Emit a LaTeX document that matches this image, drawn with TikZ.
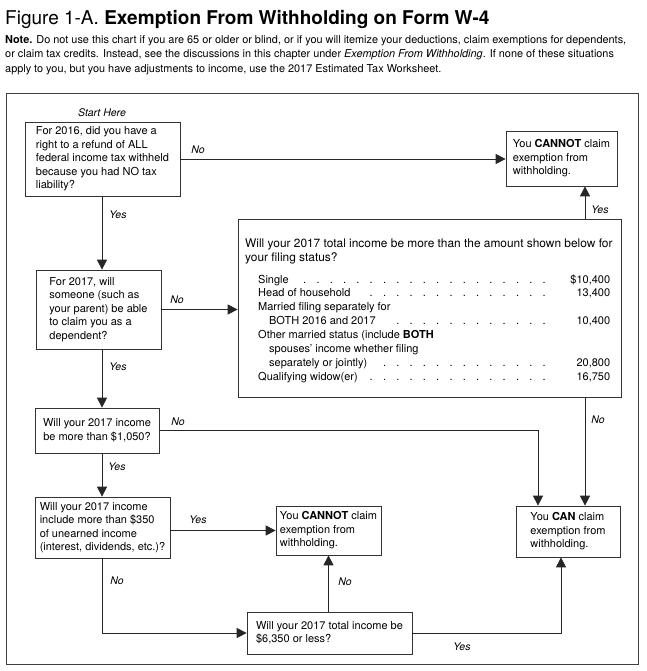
\documentclass[tikz,border=0pt]{standalone}
\usepackage{fontspec}
\setmainfont{TeX Gyre Heros}
\usetikzlibrary{arrows.meta}
\newcommand\tabrow[2]{\hbox to 352pt{#1\ \leaders\hbox to 13.3pt{\hss.\hss}\hfill\hbox to 50pt{\hss #2}}}
\begin{document}
\begin{tikzpicture}[x=1pt,y=-1pt,
  box/.style={draw=black!80, line width=0.7pt, rectangle, inner sep=0pt, align=left, font=\fontsize{11}{13.5}\selectfont},
  conn/.style={draw=black!85, line width=0.8pt},
  arr/.style={conn, -{Triangle[length=10pt,width=10pt]}},
  lbl/.style={font=\fontsize{10.5}{12}\selectfont\itshape, inner sep=0pt},
  row/.style={anchor=base west, inner sep=0pt, font=\fontsize{11}{13.5}\selectfont},
]
\useasboundingbox (0,0) rectangle (646,671);
\node[anchor=base west, inner sep=0pt, font=\fontsize{19}{22}\selectfont] (title) at (5,25)
  {Figure 1-A. \textbf{Exemption From Withholding on Form W-4}};
\node[anchor=north west, inner sep=0pt, align=left, font=\fontsize{10.9}{14.5}\selectfont] (note) at (5,35)
  {\textbf{Note.} Do not use this chart if you are 65 or older or blind, or if you will itemize your deductions, claim exemptions for dependents,\\
   or claim tax credits. Instead, see the discussions in this chapter under \textit{Exemption From Withholding}. If none of these situations\\
   apply to you, but you have adjustments to income, use the 2017 Estimated Tax Worksheet.};
\node[draw=black!75, line width=0.7pt, minimum width=632pt, minimum height=571pt, inner sep=0pt] (frame) at (322,378.5) {};

\node[lbl] (start) at (102,113) {Start Here};
\node[box, minimum width=155pt, minimum height=74pt] (q1) at (102.5,159)
  {For 2016, did you have a\\right to a refund of ALL\\federal income tax withheld\\because you had NO tax\\liability?};
\node[box, minimum width=111pt, minimum height=55pt] (c1) at (561.5,158.5)
  {You \textbf{CANNOT} claim\\exemption from\\withholding.};
\node[box, minimum width=125pt, minimum height=79pt] (q2) at (98.5,309.5)
  {For 2017, will\\someone (such as\\your parent) be able\\to claim you as a\\dependent?};
\node[box, minimum width=383pt, minimum height=178pt] (big) at (429.5,308) {};
\node[anchor=north west, inner sep=0pt, align=left, font=\fontsize{11.9}{14}\selectfont] (bigq) at (245,238.5)
  {Will your 2017 total income be more than the amount shown below for\\your filing status?};
\node[row] (r1) at (258,283) {\tabrow{Single}{\$10,400}};
\node[row] (r2) at (258,296.9) {\tabrow{Head of household}{13,400}};
\node[row] (r3) at (258,310.7) {Married filing separately for};
\node[row] (r4) at (258,324.6) {\tabrow{\hskip 11pt BOTH 2016 and 2017}{10,400}};
\node[row] (r5) at (258,338.4) {Other married status (include \textbf{BOTH}};
\node[row] (r6) at (258,352.3) {\hskip 11pt spouses' income whether filing};
\node[row] (r7) at (258,366.2) {\tabrow{\hskip 11pt separately or jointly)}{20,800}};
\node[row] (r8) at (258,380) {\tabrow{Qualifying widow(er)}{16,750}};
\node[box, minimum width=124pt, minimum height=45pt, align=center] (q3) at (97,430.5)
  {Will your 2017 income\\be more than \$1,050?};
\node[box, minimum width=135pt, minimum height=61pt] (q4) at (102.5,527.5)
  {Will your 2017 income\\include more than \$350\\of unearned income\\(interest, dividends, etc.)?};
\node[box, minimum width=105pt, minimum height=49pt] (c2) at (328.5,530.5)
  {You \textbf{CANNOT} claim\\exemption from\\withholding.};
\node[box, minimum width=104pt, minimum height=51pt] (can) at (568,531.5)
  {You \textbf{CAN} claim\\exemption from\\withholding.};
\node[box, minimum width=165pt, minimum height=42pt] (q5) at (329.5,633)
  {Will your 2017 total income be\\\$6,350 or less?};

\coordinate (lx) at (102,0);
\coordinate (rx) at (585,0);
\coordinate (mx) at (538,0);
\coordinate (cx) at (561,0);

\draw[arr] (q1.east) -- (q1.east -| c1.west);
\node[lbl] (l1) at (198,150) {No};
\draw[arr] (lx |- q1.south) -- (lx |- q2.north);
\node[lbl] (l2) at (118,215) {Yes};
\draw[arr] (q2.east) -- (q2.east -| big.west);
\node[lbl] (l3) at (177,300) {No};
\draw[arr] (rx |- big.north) -- (rx |- c1.south);
\node[lbl] (l4) at (600,210) {Yes};
\draw[arr] (lx |- q2.south) -- (lx |- q3.north);
\node[lbl] (l5) at (118,367) {Yes};
\draw[arr] (rx |- big.south) -- (rx |- can.north);
\node[lbl] (l6) at (598,420) {No};
\draw[arr] (q3.east) -| (mx |- can.north);
\node[lbl] (l7) at (178,422) {No};
\draw[arr] (lx |- q3.south) -- (lx |- q4.north);
\node[lbl] (l8) at (117,467) {Yes};
\draw[arr] (q4.east |- c2.west) -- (c2.west);
\node[lbl] (l9) at (198,520) {Yes};
\draw[arr] (lx |- q4.south) |- (q5.west);
\node[lbl] (l10) at (117,581) {No};
\draw[arr] (c2.south |- q5.north) -- (c2.south);
\node[lbl] (l11) at (345,582) {No};
\draw[arr] (q5.east) -| (cx |- can.south);
\node[lbl] (l12) at (462,647) {Yes};
\end{tikzpicture}
\end{document}
